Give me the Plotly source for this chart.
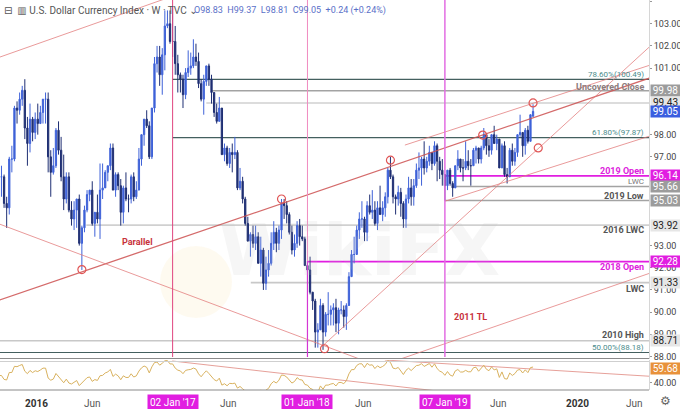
import numpy as np
import pandas as pd
import plotly.graph_objects as go

# ---------------- data (weekly DXY) ----------------
week_start = "2015-06-01"
opens = [97.0, 96.3, 94.9, 94.2, 95.5, 96.0, 96.0, 97.9, 97.2, 97.3, 98.0, 96.6, 94.9, 95.8, 96.2, 95.3,
         95.0, 96.1, 96.1, 94.9, 94.7, 96.9, 96.9, 99.2, 99.1, 99.6, 100.0, 98.3, 97.6, 98.7, 98.1,
         # 2016
         98.7, 98.5, 99.0, 99.6, 99.6, 97.0, 96.3, 96.6, 98.2, 97.3, 96.1, 95.1, 96.1, 94.6, 94.2, 94.6,
         95.1, 93.1, 93.8, 94.6, 95.3, 95.5, 94.0, 94.5, 94.2, 95.5, 95.6, 96.3, 96.6, 97.4, 95.5, 96.2,
         95.7, 94.5, 95.6, 95.1, 95.1, 96.1, 95.2, 95.5, 96.9, 98.0, 98.7, 98.4, 97.0, 99.2, 101.2, 101.5,
         100.7, 101.6, 102.9, 103.0,
         # 2017
         102.2, 102.2, 101.2, 100.7, 100.5, 99.8, 100.8, 101.0, 101.1, 101.5, 101.3, 100.3, 99.6, 100.4,
         101.1, 100.5, 99.9, 99.0, 98.6, 99.2, 97.1, 97.4, 96.7, 97.2, 97.1, 97.2, 95.6, 95.9, 95.1, 94.0,
         93.2, 93.5, 93.1, 93.4, 92.2, 92.8, 91.3, 91.9, 92.2, 93.1, 93.6, 93.1, 93.7, 94.9, 94.8, 94.4,
         93.6, 92.8, 93.1, 93.9, 93.4, 93.3,
         # 2018
         92.1, 91.9, 90.9, 90.5, 89.1, 89.2, 90.3, 89.1, 89.9, 89.9, 90.1, 90.2, 89.5, 90.1, 90.1, 89.8,
         90.3, 91.6, 92.6, 92.6, 93.7, 94.2, 94.2, 93.6, 94.8, 94.5, 94.6, 94.0, 94.7, 94.4, 94.7, 95.2,
         96.4, 96.1, 95.2, 95.1, 95.4, 94.9, 94.2, 95.1, 95.6, 95.2, 95.7, 96.4, 96.5, 96.9, 96.5, 96.8,
         97.2, 96.7, 97.5, 96.8, 96.4,
         # 2019
         96.2, 95.7, 96.4, 95.8, 95.6, 96.6, 96.9, 96.5, 96.5, 96.8, 96.6, 96.6, 97.3, 97.4, 96.9, 97.4,
         98.0, 97.5, 97.3, 98.0, 97.6, 97.8, 96.5, 97.5, 96.2, 96.1, 97.3, 96.8, 97.2, 98.0, 98.1, 97.5,
         98.2, 97.7, 98.83]
highs = [97.0, 96.5, 95.3, 95.8, 96.4, 96.6, 98.1, 98.0, 97.6, 98.3, 98.0, 96.7, 96.4, 96.6, 96.3, 96.0,
         96.6, 96.6, 96.2, 95.2, 97.0, 97.5, 99.3, 99.5, 99.9, 100.2, 100.5, 98.8, 99.4, 98.8, 99.0,
         # 2016
         99.4, 99.3, 99.6, 99.9, 99.9, 97.3, 97.4, 98.3, 98.6, 97.9, 97.1, 96.3, 96.3, 95.0, 95.0, 95.1,
         95.3, 93.9, 94.8, 95.5, 95.5, 95.9, 94.5, 95.3, 96.7, 96.7, 96.4, 96.6, 97.6, 97.6, 96.3, 96.3,
         96.0, 95.7, 96.3, 95.3, 96.2, 96.3, 95.9, 97.4, 98.0, 98.7, 99.1, 98.6, 99.2, 101.5, 102.0, 102.0,
         101.9, 103.6, 103.6, 103.6,
         # 2017
         103.8, 102.9, 101.6, 100.8, 100.7, 101.0, 101.8, 101.7, 102.3, 102.1, 101.7, 100.5, 100.7, 101.1,
         101.2, 100.7, 99.9, 99.4, 99.7, 99.2, 97.6, 97.5, 97.4, 97.6, 97.9, 97.3, 96.5, 96.1, 95.2, 94.3,
         93.6, 93.9, 93.9, 93.6, 93.4, 92.9, 92.5, 92.8, 93.6, 94.1, 93.8, 93.9, 95.1, 95.1, 95.0, 94.5,
         93.9, 93.5, 94.1, 94.2, 93.9, 93.4,
         # 2018
         92.3, 92.5, 90.9, 90.6, 89.5, 90.6, 90.4, 90.0, 90.9, 90.3, 90.4, 90.6, 90.2, 90.5, 90.3, 90.4,
         91.8, 92.8, 93.4, 93.9, 94.5, 95.0, 94.3, 95.0, 95.3, 95.5, 95.0, 95.0, 95.7, 95.0, 95.4, 96.5,
         97.0, 96.2, 95.3, 95.7, 95.6, 95.0, 95.3, 96.1, 96.0, 96.0, 96.7, 97.2, 97.0, 97.7, 97.0, 97.5,
         97.2, 97.7, 97.6, 97.0, 96.9,
         # 2019
         96.2, 96.4, 96.5, 95.9, 96.6, 97.3, 96.9, 96.9, 97.7, 97.3, 96.9, 97.4, 97.5, 97.4, 97.5, 98.3,
         98.0, 97.8, 98.0, 98.4, 98.0, 97.8, 97.6, 97.7, 96.5, 97.4, 97.6, 97.4, 98.0, 98.9, 98.1, 98.3,
         98.4, 98.9, 99.37]
lows = [95.5, 94.7, 93.5, 93.8, 95.1, 95.4, 95.7, 96.9, 96.7, 97.0, 96.3, 94.7, 92.6, 95.2, 95.2, 94.4,
        95.0, 95.2, 94.7, 93.8, 94.4, 96.3, 96.8, 98.5, 98.9, 99.3, 97.8, 96.6, 97.2, 97.7, 97.8,
        # 2016
        98.0, 98.5, 98.5, 98.5, 96.3, 95.2, 96.2, 96.5, 97.1, 95.9, 94.6, 94.9, 94.5, 93.9, 93.7, 93.8,
        93.0, 91.9, 93.6, 94.5, 95.0, 93.9, 93.4, 94.0, 93.3, 95.1, 95.6, 95.9, 96.4, 95.5, 95.2, 95.5,
        93.9, 94.0, 95.0, 94.5, 94.9, 95.0, 95.1, 95.5, 96.6, 97.5, 98.3, 96.9, 96.9, 99.0, 100.8, 100.2,
        99.8, 100.9, 102.8, 102.1,
        # 2017
        101.5, 100.7, 99.9, 99.9, 99.2, 99.6, 100.6, 100.7, 101.0, 101.1, 100.1, 99.5, 98.9, 100.2,
        100.2, 99.4, 98.8, 98.5, 98.6, 97.1, 96.8, 96.6, 96.5, 96.3, 96.9, 95.5, 95.5, 94.9, 93.9, 93.2,
        92.5, 92.9, 92.8, 92.2, 91.6, 91.0, 91.0, 91.6, 92.1, 92.8, 92.7, 92.8, 93.3, 94.2, 94.0, 93.5,
        92.6, 92.5, 92.9, 93.0, 93.2, 92.1,
        # 2018
        91.8, 90.8, 90.1, 88.4, 88.4, 89.2, 88.3, 88.9, 89.4, 89.4, 89.4, 89.1, 89.0, 89.9, 89.3, 89.2,
        90.3, 91.6, 92.2, 92.6, 93.3, 93.8, 93.2, 93.2, 94.4, 94.2, 93.9, 93.7, 94.4, 94.1, 94.3, 94.9,
        96.0, 94.9, 94.4, 94.8, 94.3, 93.8, 93.8, 94.9, 94.8, 94.8, 95.6, 96.0, 95.7, 96.2, 96.3, 96.6,
        96.4, 96.6, 95.9, 96.0, 95.7,
        # 2019
        95.03, 95.5, 95.7, 95.2, 95.6, 96.4, 96.3, 95.9, 96.4, 96.4, 95.7, 96.6, 96.7, 96.7, 96.7, 97.3,
        97.1, 97.0, 97.1, 97.6, 97.3, 96.5, 96.5, 96.1, 95.8, 96.1, 96.6, 96.6, 97.0, 97.9, 97.0, 97.1,
        97.6, 97.7, 98.81]
closes = [96.3, 94.9, 94.2, 95.5, 96.0, 96.0, 97.9, 97.2, 97.3, 98.0, 96.6, 94.9, 95.8, 96.2, 95.3, 95.0,
          96.1, 96.1, 94.9, 94.7, 96.9, 96.9, 99.2, 99.1, 99.6, 100.0, 98.3, 97.6, 98.7, 98.1, 98.7,
          # 2016
          98.5, 99.0, 99.6, 99.6, 97.0, 96.3, 96.6, 98.2, 97.3, 96.1, 95.1, 96.1, 94.6, 94.2, 94.6, 95.1,
          93.1, 93.8, 94.6, 95.3, 95.5, 94.0, 94.5, 94.2, 95.5, 95.6, 96.3, 96.6, 97.4, 95.5, 96.2, 95.7,
          94.5, 95.6, 95.1, 95.1, 96.1, 95.2, 95.5, 96.9, 98.0, 98.7, 98.4, 97.0, 99.2, 101.2, 101.5, 100.7,
          101.6, 102.9, 103.0, 102.2,
          # 2017
          102.2, 101.2, 100.7, 100.5, 99.8, 100.8, 101.0, 101.1, 101.5, 101.3, 100.3, 99.6, 100.4, 101.1,
          100.5, 99.9, 99.0, 98.6, 99.2, 97.1, 97.4, 96.7, 97.2, 97.1, 97.2, 95.6, 95.9, 95.1, 94.0, 93.2,
          93.5, 93.1, 93.4, 92.2, 92.8, 91.3, 91.9, 92.2, 93.1, 93.6, 93.1, 93.7, 94.9, 94.8, 94.4, 93.6,
          92.8, 93.1, 93.9, 93.4, 93.3, 92.1,
          # 2018
          91.9, 90.9, 90.5, 89.1, 89.2, 90.3, 89.1, 89.9, 89.9, 90.1, 90.2, 89.5, 90.1, 90.1, 89.8, 90.3,
          91.6, 92.6, 92.6, 93.7, 94.2, 94.2, 93.6, 94.8, 94.5, 94.6, 94.0, 94.7, 94.4, 94.7, 95.2, 96.4,
          96.1, 95.2, 95.1, 95.4, 94.9, 94.2, 95.1, 95.6, 95.2, 95.7, 96.4, 96.5, 96.9, 96.5, 96.8, 97.2,
          96.7, 97.5, 96.8, 96.4, 96.2,
          # 2019
          95.7, 96.4, 95.8, 95.6, 96.6, 96.9, 96.5, 96.5, 96.8, 96.6, 96.6, 97.3, 97.4, 96.9, 97.4, 98.0,
          97.5, 97.3, 98.0, 97.6, 97.8, 96.5, 97.5, 96.2, 96.1, 97.3, 96.8, 97.2, 98.0, 98.1, 97.5, 98.2,
          97.7, 98.9, 99.05]

# price-scale tick values that are not hidden behind a level box
price_ticks = [88, 89, 90, 91, 92, 93, 97, 98, 101, 102, 103, 104]

# horizontal levels: (price, start date, colour, width)
levels = [
    (100.49, "2017-01-02", "#44605f", 1.2),
    (99.98, "2017-04-17", "#a3a3a3", 1.6),
    (99.43, "2017-04-03", "#d0d0d0", 1.6),
    (97.87, "2017-01-02", "#44605f", 1.2),
    (96.14, "2019-01-07", "#e11ee1", 1.8),
    (95.66, "2019-01-28", "#a3a3a3", 1.6),
    (95.03, "2019-01-07", "#a3a3a3", 1.6),
    (93.92, "2016-05-14", "#d0d0d0", 1.6),
    (92.28, "2018-01-01", "#e11ee1", 1.8),
    (91.33, "2017-08-01", "#c8c8c8", 1.6),
    (88.71, "2015-09-01", "#c8c8c8", 1.6),
    (88.18, "2015-09-01", "#44605f", 1.2),
]
level_labels = [
    (100.49, "78.60%(100.49)", "#4c8c8c", 8, False, 5),
    (99.98, "Uncovered Close", "#8c7c7c", 9, True, 4),
    (97.87, "61.80%(97.87)", "#4c8c8c", 8, False, 5),
    (96.14, "2019 Open", "#dd22dd", 9, True, 5),
    (95.66, "LWC", "#777777", 8, False, 5),
    (95.03, "2019 Low", "#555555", 9, True, 5),
    (93.92, "2016 LWC", "#555555", 9, True, -5),
    (92.28, "2018 Open", "#dd22dd", 9, True, -5),
    (91.33, "LWC", "#555555", 9, True, -6),
    (88.71, "2010 High", "#555555", 9, True, 6),
    (88.18, "50.00%(88.18)", "#4c8c8c", 8, False, 5),
]
# price-scale boxes: (price, text, background, text colour)
price_boxes = [
    (99.98, "99.98", "#9c9c9c", "white"),
    (99.43, "99.43", "#e6e6e6", "#222222"),
    (99.05, "99.05", "#3a5ee0", "white"),
    (96.14, "96.14", "#e11ee1", "white"),
    (95.66, "95.66", "#9c9c9c", "white"),
    (95.03, "95.03", "#9c9c9c", "white"),
    (93.92, "93.92", "#e6e6e6", "#222222"),
    (92.28, "92.28", "#e11ee1", "white"),
    (91.33, "91.33", "#e6e6e6", "#222222"),
    (88.71, "88.71", "#e6e6e6", "#222222"),
]
# trend lines (price pane): two anchor points each (date, price), colour, width
trend_lines = [
    (("2015-08-28", 90.40), ("2020-09-06", 100.87), "rgba(205,80,80,0.85)", 1.3),   # parallel channel base
    (("2018-09-21", 97.53), ("2020-09-06", 101.43), "rgba(225,120,120,0.75)", 1),   # upper line
    (("2018-02-09", 88.45), ("2020-09-06", 102.81), "rgba(225,120,120,0.75)", 1),   # 2018 low support
    (("2019-01-07", 95.00), ("2020-09-06", 98.23), "rgba(225,120,120,0.75)", 1),    # 2019 low line
    (("2015-08-28", 101.34), ("2017-03-17", 104.68), "rgba(225,120,120,0.75)", 1),  # 2015 upper
    (("2015-08-28", 94.13), ("2018-07-16", 87.54), "rgba(225,120,120,0.75)", 1),    # 2015 decline
    (("2018-07-16", 87.57), ("2020-09-06", 92.07), "rgba(225,120,120,0.75)", 1),    # 2011 TL
]
rsi_lines = [
    (("2017-01-01", 68.9), ("2018-12-25", 29.1)),
    (("2018-07-29", 70.2), ("2020-09-06", 47.2)),
]
circles = [("2016-05-02", 91.92), ("2017-10-23", 95.10), ("2018-08-13", 96.85),
           ("2018-02-16", 88.35), ("2019-04-19", 97.98), ("2019-09-02", 99.43),
           ("2019-09-16", 97.40)]

dates = pd.date_range(week_start, periods=len(closes), freq="7D")

# Wilder RSI(14) of the weekly closes (the indicator shown in the lower pane)
def wilder_rsi(c, n=14):
    c = np.asarray(c, float)
    d = np.diff(c)
    up = np.where(d > 0, d, 0.0)
    dn = np.where(d < 0, -d, 0.0)
    out = np.full(len(c), np.nan)
    au, ad = up[:n].mean(), dn[:n].mean()
    out[n] = 100 - 100 / (1 + au / ad)
    for i in range(n + 1, len(c)):
        au = (au * (n - 1) + up[i - 1]) / n
        ad = (ad * (n - 1) + dn[i - 1]) / n
        out[i] = 100 - 100 / (1 + au / ad)
    return out

rsi = wilder_rsi(closes)

X0, X1 = "2015-09-24", "2020-07-11"
PH = 390.0  # plot height in px

def py(px):  # pixel row -> paper y
    return (PH - px) / PH

FONT = "Roboto, DejaVu Sans"
fig = go.Figure()
fig.add_trace(go.Candlestick(
    x=dates, open=opens, high=highs, low=lows, close=closes,
    increasing=dict(line=dict(color="#3f62d8", width=1), fillcolor="#3f62d8"),
    decreasing=dict(line=dict(color="#1f2f73", width=1), fillcolor="#1f2f73"),
    whiskerwidth=0, hoverinfo="skip", xaxis="x", yaxis="y"))

for (d1, p1), (d2, p2), col, w in trend_lines:
    fig.add_trace(go.Scatter(x=[d1, d2], y=[p1, p2], mode="lines",
                             line=dict(color=col, width=w),
                             hoverinfo="skip", xaxis="x", yaxis="y"))
for (d1, p1), (d2, p2) in rsi_lines:
    fig.add_trace(go.Scatter(x=[d1, d2], y=[p1, p2], mode="lines",
                             line=dict(color="rgba(220,120,110,0.7)", width=1),
                             hoverinfo="skip", xaxis="x", yaxis="y2"))
fig.add_trace(go.Scatter(x=dates, y=rsi, mode="lines",
                         line=dict(color="#d9b25f", width=1),
                         hoverinfo="skip", xaxis="x", yaxis="y2"))
fig.add_trace(go.Scatter(x=[c[0] for c in circles], y=[c[1] for c in circles], mode="markers",
                         marker=dict(size=8, color="rgba(0,0,0,0)",
                                     line=dict(color="#e05555", width=1.2)),
                         hoverinfo="skip", xaxis="x", yaxis="y"))

shapes = []
for price, start, col, w in levels:
    shapes.append(dict(type="line", xref="x", yref="y", x0=start, x1=X1, y0=price, y1=price,
                       line=dict(color=col, width=w), layer="below"))
# vertical markers
shapes.append(dict(type="line", xref="x", yref="paper", x0="2017-01-02", x1="2017-01-02",
                   y0=py(357), y1=1, line=dict(color="#e0457f", width=1)))
shapes.append(dict(type="line", xref="x", yref="paper", x0="2018-01-01", x1="2018-01-01",
                   y0=py(261), y1=1, line=dict(color="#f08ac0", width=1)))
shapes.append(dict(type="line", xref="x", yref="paper", x0="2018-01-01", x1="2018-01-01",
                   y0=py(357), y1=py(261), line=dict(color="#d436d4", width=1.2)))
shapes.append(dict(type="line", xref="x", yref="paper", x0="2019-01-07", x1="2019-01-07",
                   y0=py(357), y1=1, line=dict(color="#e36de3", width=1.5)))
# pane separators
shapes.append(dict(type="line", xref="paper", yref="paper", x0=0, x1=1, y0=py(358.5), y1=py(358.5),
                   line=dict(color="#8a8a8a", width=1.2)))
shapes.append(dict(type="line", xref="paper", yref="paper", x0=0, x1=1, y0=py(361.5), y1=py(361.5),
                   line=dict(color="#cfcfcf", width=1)))
shapes.append(dict(type="line", xref="paper", yref="paper", x0=0, x1=1, y0=py(390), y1=py(390),
                   line=dict(color="#8a8a8a", width=1.2)))
# watermark logo blob
shapes.append(dict(type="circle", xref="paper", yref="paper", layer="below",
                   x0=160/649, x1=232/649, y0=py(318), y1=py(246),
                   fillcolor="rgba(250,225,170,0.18)", line=dict(width=0)))

ann = []
# watermark text
ann.append(dict(x=360/649, y=py(250), xref="paper", yref="paper", text="<b>WikiFX</b>", showarrow=False,
                font=dict(size=72, color="rgba(190,190,190,0.14)", family="Arial Black, DejaVu Sans")))
for price, txt, col, size, bold, shift in level_labels:
    ann.append(dict(x=646/649, y=price, xref="paper", yref="y", xanchor="right", yanchor="middle",
                    text=f"<b>{txt}</b>" if bold else txt, showarrow=False, yshift=shift,
                    font=dict(size=size, color=col, family=FONT)))
for price, txt, bg, fc in price_boxes:
    ann.append(dict(x=1, y=price, xref="paper", yref="y", xanchor="left", yanchor="middle",
                    xshift=1, text=txt, showarrow=False, bgcolor=bg, width=29, height=11,
                    borderpad=0, font=dict(size=10, color=fc, family=FONT)))
# RSI value box
ann.append(dict(x=1, y=59.68, xref="paper", yref="y2", xanchor="left", yanchor="middle",
                xshift=1, text="59.68", showarrow=False, bgcolor="#e8913a", width=29, height=11,
                borderpad=0, font=dict(size=10, color="white", family=FONT)))
# chart labels
ann.append(dict(x="2016-09-28", y=py(242), xref="x", yref="paper", text="<b>Parallel</b>",
                showarrow=False, font=dict(size=9, color="#c8323c", family=FONT)))
ann.append(dict(x="2019-03-16", y=py(324), xref="x", yref="paper", text="<b>2011 TL</b>",
                showarrow=False, font=dict(size=9, color="#c8323c", family=FONT)))
# header
ann.append(dict(x=2/649, y=py(10), xref="paper", yref="paper", xanchor="left", yanchor="middle",
                text="⊟  ▥ U.S. Dollar Currency Index · W · TVC ⌄", showarrow=False,
                font=dict(size=10, color="#555555", family=FONT)))
ann.append(dict(x=192/649, y=py(10), xref="paper", yref="paper", xanchor="left", yanchor="middle",
                text="O98.83  H99.37  L98.81  C99.05  +0.24 (+0.24%)", showarrow=False,
                font=dict(size=9, color="#5a70c8", family=FONT)))
# time axis labels
time_labels = [("2016-01-01", "2016", True), ("2016-06-01", "Jun", False),
               ("2017-06-01", "Jun", False), ("2018-06-01", "Jun", False),
               ("2019-06-01", "Jun", False), ("2020-01-01", "2020", True),
               ("2020-06-01", "Jun", False)]
for d, t, b in time_labels:
    ann.append(dict(x=d, y=py(403), xref="x", yref="paper", text=f"<b>{t}</b>" if b else t,
                    showarrow=False, yanchor="middle",
                    font=dict(size=10, color="#333333" if b else "#555555", family=FONT)))
for d, t in [("2017-01-02", "02 Jan '17"), ("2018-01-01", "01 Jan '18"), ("2019-01-07", "07 Jan '19")]:
    ann.append(dict(x=d, y=py(402.5), xref="x", yref="paper", text=t, showarrow=False, yanchor="middle",
                    bgcolor="#e11ee1", borderpad=2,
                    font=dict(size=10, color="white", family=FONT)))
ann.append(dict(x=1, y=py(401), xref="paper", yref="paper", xanchor="left", xshift=9, text="⚙",
                showarrow=False, yanchor="middle", font=dict(size=12, color="#666666")))

fig.update_layout(
    width=680, height=409, margin=dict(l=0, r=31, t=0, b=19, autoexpand=False),
    paper_bgcolor="white", plot_bgcolor="white", showlegend=False,
    font=dict(family=FONT),
    xaxis=dict(type="date", range=[X0, X1], showgrid=False, showticklabels=False, zeroline=False,
               rangeslider=dict(visible=False), anchor="y2", showline=False, fixedrange=True,
               automargin=False),
    yaxis=dict(domain=[31.5 / PH, 1], range=[87.91, 104.07], side="right", anchor="x",
               tickvals=price_ticks, tickformat=".2f", ticks="outside", ticklen=2,
               tickcolor="#999999", showgrid=False, zeroline=False, showline=True, automargin=False,
               linecolor="#d6d6d6", tickfont=dict(size=9, color="#444444")),
    yaxis2=dict(domain=[0, 30 / PH], range=[30.8, 70.2], side="right", anchor="x",
                tickvals=[40], tickformat=".2f", ticks="outside", ticklen=2, tickcolor="#999999",
                showgrid=False, zeroline=False, showline=True, linecolor="#d6d6d6", automargin=False,
                tickfont=dict(size=9, color="#444444")),
    shapes=shapes, annotations=ann,
)
fig.write_html("out.html", config={"displayModeBar": False},
               post_script="document.body.style.margin='0';document.body.style.padding='0';")
